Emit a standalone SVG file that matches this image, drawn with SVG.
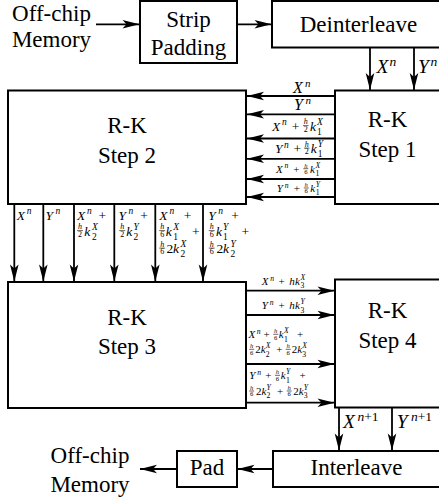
<svg xmlns="http://www.w3.org/2000/svg" width="439" height="501" viewBox="0 0 439 501">
<defs>
<marker id="ah" viewBox="-18 -5 19 10" refX="0" refY="0" markerWidth="19" markerHeight="10" markerUnits="userSpaceOnUse" orient="auto"><path d="M0,0 L-17,-4.3 L-13,0 L-17,4.3 Z" fill="#000" stroke="none"/></marker>
</defs>
<rect width="439" height="501" fill="#fff"/>

<g id="offchip-in"><text font-family="Liberation Serif" font-size="23" text-anchor="middle" x="51.5" y="20.5">Off-chip</text><text font-family="Liberation Serif" font-size="23" text-anchor="middle" x="51.5" y="47">Memory</text></g>
<g id="strip-padding"><rect fill="#fff" stroke="#000" stroke-width="2" x="140" y="1" width="97" height="62"/><text font-family="Liberation Serif" font-size="23" text-anchor="middle" x="188.5" y="27">Strip</text><text font-family="Liberation Serif" font-size="23" text-anchor="middle" x="188.5" y="55">Padding</text></g>
<g id="deinterleave"><rect fill="#fff" stroke="#000" stroke-width="2" x="272" y="1" width="174" height="46.5"/><text font-family="Liberation Serif" font-size="23" text-anchor="middle" x="358.5" y="32">Deinterleave</text></g>
<g id="rk-step1"><rect fill="#fff" stroke="#000" stroke-width="2" x="335" y="90.5" width="106" height="113.5"/><text font-family="Liberation Serif" font-size="23" text-anchor="middle" x="387.5" y="127">R-K</text><text font-family="Liberation Serif" font-size="23" text-anchor="middle" x="387.5" y="157">Step 1</text></g>
<g id="rk-step2"><rect fill="#fff" stroke="#000" stroke-width="2" x="8" y="90.5" width="238" height="113.5"/><text font-family="Liberation Serif" font-size="23" text-anchor="middle" x="127" y="133.3">R-K</text><text font-family="Liberation Serif" font-size="23" text-anchor="middle" x="127" y="162.7">Step 2</text></g>
<g id="rk-step3"><rect fill="#fff" stroke="#000" stroke-width="2" x="8" y="282" width="238" height="126"/><text font-family="Liberation Serif" font-size="23" text-anchor="middle" x="127" y="325">R-K</text><text font-family="Liberation Serif" font-size="23" text-anchor="middle" x="127" y="354">Step 3</text></g>
<g id="rk-step4"><rect fill="#fff" stroke="#000" stroke-width="2" x="335" y="279.5" width="106" height="128"/><text font-family="Liberation Serif" font-size="23" text-anchor="middle" x="387.5" y="317.7">R-K</text><text font-family="Liberation Serif" font-size="23" text-anchor="middle" x="387.5" y="347.7">Step 4</text></g>
<g id="interleave"><rect fill="#fff" stroke="#000" stroke-width="2" x="273" y="451" width="168" height="36"/><text font-family="Liberation Serif" font-size="23" text-anchor="middle" x="356.5" y="475">Interleave</text></g>
<g id="pad"><rect fill="#fff" stroke="#000" stroke-width="2" x="177" y="451" width="60" height="36"/><text font-family="Liberation Serif" font-size="23" text-anchor="middle" x="207" y="475">Pad</text></g>
<g id="offchip-out"><text font-family="Liberation Serif" font-size="23" text-anchor="middle" x="90" y="463">Off-chip</text><text font-family="Liberation Serif" font-size="23" text-anchor="middle" x="90" y="491.5">Memory</text></g>

<g id="connectors" fill="none" stroke="#000" stroke-width="1.8" marker-end="url(#ah)">
<line x1="96" y1="24.3" x2="139.5" y2="24.3"/>
<line x1="237" y1="24.3" x2="271.5" y2="24.3"/>
<line x1="370" y1="47.5" x2="370" y2="90"/>
<line x1="414" y1="47.5" x2="414" y2="90"/>
<line x1="335" y1="96" x2="247" y2="96"/>
<line x1="335" y1="114.3" x2="247" y2="114.3"/>
<line x1="335" y1="138.5" x2="247" y2="138.5"/>
<line x1="335" y1="158.8" x2="247" y2="158.8"/>
<line x1="335" y1="179" x2="247" y2="179"/>
<line x1="335" y1="197" x2="247" y2="197"/>
<line x1="14.3" y1="204" x2="14.3" y2="281.5"/>
<line x1="43.3" y1="204" x2="43.3" y2="281.5"/>
<line x1="74" y1="204" x2="74" y2="281.5"/>
<line x1="114.3" y1="204" x2="114.3" y2="281.5"/>
<line x1="155.3" y1="204" x2="155.3" y2="281.5"/>
<line x1="203" y1="204" x2="203" y2="281.5"/>
<line x1="246" y1="290.7" x2="334.5" y2="290.7"/>
<line x1="246" y1="315" x2="334.5" y2="315"/>
<line x1="246" y1="364" x2="334.5" y2="364"/>
<line x1="246" y1="402.7" x2="334.5" y2="402.7"/>
<line x1="339" y1="407.5" x2="339" y2="450.5"/>
<line x1="392" y1="407.5" x2="392" y2="450.5"/>
<line x1="273" y1="469" x2="237.5" y2="469"/>
<line x1="177" y1="469" x2="140" y2="469"/>
</g>

<g id="labels" fill="#000">
<text font-family="Liberation Serif" font-style="italic"><tspan x="376.5" y="73.3" font-size="19.5">X</tspan><tspan x="389.5" y="66" font-size="13.5">n</tspan></text>
<text font-family="Liberation Serif" font-style="italic"><tspan x="418" y="73.3" font-size="19.5">Y</tspan><tspan x="430.5" y="66" font-size="13.5">n</tspan></text>
<text font-family="Liberation Serif" font-style="italic"><tspan x="343" y="428.3" font-size="19.5">X</tspan><tspan x="357.5" y="421" font-size="13.5">n</tspan><tspan font-style="normal" font-size="13.5">+1</tspan></text>
<text font-family="Liberation Serif" font-style="italic"><tspan x="396.7" y="428.3" font-size="19.5">Y</tspan><tspan x="411" y="421" font-size="13.5">n</tspan><tspan font-style="normal" font-size="13.5">+1</tspan></text>

<text font-family="Liberation Serif" font-style="italic" font-size="16"><tspan x="293" y="92.5">X</tspan><tspan x="305" y="86.5" font-size="11">n</tspan></text>
<text font-family="Liberation Serif" font-style="italic" font-size="16"><tspan x="294" y="109.5">Y</tspan><tspan x="305.5" y="103.5" font-size="11">n</tspan></text>

<g><text font-family="Liberation Serif" font-style="italic" font-size="13.5"><tspan x="272" y="130.5">X</tspan><tspan x="282" y="125" font-size="9.5">n</tspan><tspan font-style="normal" x="291.7" y="130.5">+</tspan><tspan x="303.8" y="124.4" font-size="8">h</tspan><tspan font-style="normal" x="303.8" y="131.9" font-size="8">2</tspan><tspan x="310" y="130.5">k</tspan><tspan x="317" y="124.5" font-size="9.5">X</tspan><tspan font-style="normal" x="317" y="134.5" font-size="9.5">1</tspan></text><line stroke="#000" stroke-width="0.6" x1="303" y1="125.6" x2="308.6" y2="125.6"/></g>
<g><text font-family="Liberation Serif" font-style="italic" font-size="13.5"><tspan x="275" y="153">Y</tspan><tspan x="284" y="147.5" font-size="9.5">n</tspan><tspan font-style="normal" x="293.5" y="153">+</tspan><tspan x="304.8" y="146.9" font-size="8">h</tspan><tspan font-style="normal" x="304.8" y="154.4" font-size="8">2</tspan><tspan x="310.8" y="153">k</tspan><tspan x="317.8" y="147" font-size="9.5">Y</tspan><tspan font-style="normal" x="317.8" y="157" font-size="9.5">1</tspan></text><line stroke="#000" stroke-width="0.6" x1="304" y1="148.1" x2="309.6" y2="148.1"/></g>
<g><text font-family="Liberation Serif" font-style="italic" font-size="11"><tspan x="276" y="172.7">X</tspan><tspan x="284.5" y="168.2" font-size="7.7">n</tspan><tspan font-style="normal" x="293.3" y="172.7">+</tspan><tspan x="304.2" y="167.7" font-size="6.6">h</tspan><tspan font-style="normal" x="304.2" y="173.9" font-size="6.6">6</tspan><tspan x="310" y="172.7">k</tspan><tspan x="315.5" y="167.7" font-size="7.7">X</tspan><tspan font-style="normal" x="315.5" y="176" font-size="7.7">1</tspan></text><line stroke="#000" stroke-width="0.6" x1="303.3" y1="168.7" x2="308.3" y2="168.7"/></g>
<g><text font-family="Liberation Serif" font-style="italic" font-size="11"><tspan x="276.7" y="192">Y</tspan><tspan x="284.8" y="187.5" font-size="7.7">n</tspan><tspan font-style="normal" x="293.7" y="192">+</tspan><tspan x="304.6" y="187" font-size="6.6">h</tspan><tspan font-style="normal" x="304.6" y="193.2" font-size="6.6">6</tspan><tspan x="310.2" y="192">k</tspan><tspan x="315.7" y="187" font-size="7.7">Y</tspan><tspan font-style="normal" x="315.7" y="195.3" font-size="7.7">1</tspan></text><line stroke="#000" stroke-width="0.6" x1="303.8" y1="188" x2="308.8" y2="188"/></g>

<text font-family="Liberation Serif" font-style="italic" font-size="13.5"><tspan x="16.7" y="219.5">X</tspan><tspan x="26.8" y="214" font-size="9.5">n</tspan></text>
<text font-family="Liberation Serif" font-style="italic" font-size="13.5"><tspan x="45.5" y="219.5">Y</tspan><tspan x="55.5" y="214" font-size="9.5">n</tspan></text>
<g><text font-family="Liberation Serif" font-style="italic" font-size="13.5"><tspan x="77" y="219.5">X</tspan><tspan x="87" y="214" font-size="9.5">n</tspan><tspan font-style="normal" x="98.5" y="219.5">+</tspan><tspan x="78" y="229.4" font-size="8">h</tspan><tspan font-style="normal" x="78" y="236.9" font-size="8">2</tspan><tspan x="84.3" y="235.5">k</tspan><tspan x="92" y="229.5" font-size="9.5">X</tspan><tspan font-style="normal" x="92" y="239.5" font-size="9.5">2</tspan></text><line stroke="#000" stroke-width="0.6" x1="77" y1="230.6" x2="83" y2="230.6"/></g>
<g><text font-family="Liberation Serif" font-style="italic" font-size="13.5"><tspan x="118.5" y="219.5">Y</tspan><tspan x="128.5" y="214" font-size="9.5">n</tspan><tspan font-style="normal" x="140.2" y="219.5">+</tspan><tspan x="120.2" y="229.4" font-size="8">h</tspan><tspan font-style="normal" x="120.2" y="236.9" font-size="8">2</tspan><tspan x="126.2" y="235.5">k</tspan><tspan x="133.5" y="229.5" font-size="9.5">Y</tspan><tspan font-style="normal" x="133.5" y="239.5" font-size="9.5">2</tspan></text><line stroke="#000" stroke-width="0.6" x1="119.2" y1="230.6" x2="125.2" y2="230.6"/></g>
<g><text font-family="Liberation Serif" font-style="italic" font-size="13.5"><tspan x="159.3" y="219.5">X</tspan><tspan x="169.5" y="214" font-size="9.5">n</tspan><tspan font-style="normal" x="183.8" y="219.5">+</tspan><tspan x="160.2" y="229.4" font-size="8">h</tspan><tspan font-style="normal" x="160.2" y="236.9" font-size="8">6</tspan><tspan x="165.8" y="235.5">k</tspan><tspan x="173.3" y="229.5" font-size="9.5">X</tspan><tspan font-style="normal" x="173.3" y="239.5" font-size="9.5">1</tspan><tspan font-style="normal" x="192" y="235.5">+</tspan><tspan x="160.2" y="246.9" font-size="8">h</tspan><tspan font-style="normal" x="160.2" y="254.4" font-size="8">6</tspan><tspan font-style="normal" x="166.5" y="253">2</tspan><tspan x="173" y="253">k</tspan><tspan x="180.5" y="247" font-size="9.5">X</tspan><tspan font-style="normal" x="180.5" y="257" font-size="9.5">2</tspan></text><line stroke="#000" stroke-width="0.6" x1="159.2" y1="230.6" x2="165.2" y2="230.6"/><line stroke="#000" stroke-width="0.6" x1="159.2" y1="248.1" x2="165.2" y2="248.1"/></g>
<g><text font-family="Liberation Serif" font-style="italic" font-size="13.5"><tspan x="208.3" y="219.5">Y</tspan><tspan x="218.3" y="214" font-size="9.5">n</tspan><tspan font-style="normal" x="231.3" y="219.5">+</tspan><tspan x="209.7" y="229.4" font-size="8">h</tspan><tspan font-style="normal" x="209.7" y="236.9" font-size="8">6</tspan><tspan x="216" y="235.5">k</tspan><tspan x="223" y="229.5" font-size="9.5">Y</tspan><tspan font-style="normal" x="223" y="239.5" font-size="9.5">1</tspan><tspan font-style="normal" x="241.5" y="235.5">+</tspan><tspan x="209.7" y="246.9" font-size="8">h</tspan><tspan font-style="normal" x="209.7" y="254.4" font-size="8">6</tspan><tspan font-style="normal" x="216.5" y="253">2</tspan><tspan x="223" y="253">k</tspan><tspan x="230.5" y="247" font-size="9.5">Y</tspan><tspan font-style="normal" x="230.5" y="257" font-size="9.5">2</tspan></text><line stroke="#000" stroke-width="0.6" x1="208.7" y1="230.6" x2="214.7" y2="230.6"/><line stroke="#000" stroke-width="0.6" x1="208.7" y1="248.1" x2="214.7" y2="248.1"/></g>

<text font-family="Liberation Serif" font-style="italic" font-size="11"><tspan x="261.7" y="285">X</tspan><tspan x="270.3" y="280.5" font-size="7.7">n</tspan><tspan font-style="normal" x="278.5" y="285">+</tspan><tspan x="289.3" y="285">h</tspan><tspan x="295" y="285">k</tspan><tspan x="300.5" y="280" font-size="7.7">X</tspan><tspan font-style="normal" x="300.5" y="288.3" font-size="7.7">3</tspan></text>
<text font-family="Liberation Serif" font-style="italic" font-size="11"><tspan x="261.7" y="309.3">Y</tspan><tspan x="269.8" y="304.8" font-size="7.7">n</tspan><tspan font-style="normal" x="278.5" y="309.3">+</tspan><tspan x="289.3" y="309.3">h</tspan><tspan x="295" y="309.3">k</tspan><tspan x="300.5" y="304.3" font-size="7.7">Y</tspan><tspan font-style="normal" x="300.5" y="312.6" font-size="7.7">3</tspan></text>
<g><text font-family="Liberation Serif" font-style="italic" font-size="11"><tspan x="248.5" y="338.3">X</tspan><tspan x="256.8" y="333.8" font-size="7.7">n</tspan><tspan font-style="normal" x="263.6" y="338.3">+</tspan><tspan x="274.1" y="333.3" font-size="6.6">h</tspan><tspan font-style="normal" x="274.1" y="339.5" font-size="6.6">6</tspan><tspan x="278.8" y="338.3">k</tspan><tspan x="284" y="333.3" font-size="7.7">X</tspan><tspan font-style="normal" x="284" y="341.6" font-size="7.7">1</tspan><tspan font-style="normal" x="296.9" y="338.3">+</tspan><tspan x="250" y="348.3" font-size="6.6">h</tspan><tspan font-style="normal" x="250" y="354.5" font-size="6.6">6</tspan><tspan font-style="normal" x="255.2" y="353.3">2</tspan><tspan x="260.7" y="353.3">k</tspan><tspan x="265.7" y="348.3" font-size="7.7">X</tspan><tspan font-style="normal" x="265.7" y="356.6" font-size="7.7">2</tspan><tspan font-style="normal" x="276.2" y="353.3">+</tspan><tspan x="286.5" y="348.3" font-size="6.6">h</tspan><tspan font-style="normal" x="286.5" y="354.5" font-size="6.6">6</tspan><tspan font-style="normal" x="291.7" y="353.3">2</tspan><tspan x="297.2" y="353.3">k</tspan><tspan x="302.2" y="348.3" font-size="7.7">X</tspan><tspan font-style="normal" x="302.2" y="356.6" font-size="7.7">3</tspan></text><line stroke="#000" stroke-width="0.6" x1="273.3" y1="334.3" x2="278.3" y2="334.3"/><line stroke="#000" stroke-width="0.6" x1="249.2" y1="349.3" x2="254.2" y2="349.3"/><line stroke="#000" stroke-width="0.6" x1="285.7" y1="349.3" x2="290.7" y2="349.3"/></g>
<g><text font-family="Liberation Serif" font-style="italic" font-size="11"><tspan x="249.3" y="379.3">Y</tspan><tspan x="257.3" y="374.8" font-size="7.7">n</tspan><tspan font-style="normal" x="265.2" y="379.3">+</tspan><tspan x="275.8" y="374.3" font-size="6.6">h</tspan><tspan font-style="normal" x="275.8" y="380.5" font-size="6.6">6</tspan><tspan x="280.7" y="379.3">k</tspan><tspan x="286" y="374.3" font-size="7.7">Y</tspan><tspan font-style="normal" x="286" y="382.6" font-size="7.7">1</tspan><tspan font-style="normal" x="299.6" y="379.3">+</tspan><tspan x="250" y="390" font-size="6.6">h</tspan><tspan font-style="normal" x="250" y="396.2" font-size="6.6">6</tspan><tspan font-style="normal" x="256" y="395">2</tspan><tspan x="261.5" y="395">k</tspan><tspan x="266.5" y="390" font-size="7.7">Y</tspan><tspan font-style="normal" x="266.5" y="398.3" font-size="7.7">2</tspan><tspan font-style="normal" x="276.9" y="395">+</tspan><tspan x="287.5" y="390" font-size="6.6">h</tspan><tspan font-style="normal" x="287.5" y="396.2" font-size="6.6">6</tspan><tspan font-style="normal" x="293.3" y="395">2</tspan><tspan x="298.8" y="395">k</tspan><tspan x="303.8" y="390" font-size="7.7">Y</tspan><tspan font-style="normal" x="303.8" y="398.3" font-size="7.7">3</tspan></text><line stroke="#000" stroke-width="0.6" x1="275" y1="375.3" x2="280" y2="375.3"/><line stroke="#000" stroke-width="0.6" x1="249.2" y1="391" x2="254.2" y2="391"/><line stroke="#000" stroke-width="0.6" x1="286.7" y1="391" x2="291.7" y2="391"/></g>
</g>
</svg>
